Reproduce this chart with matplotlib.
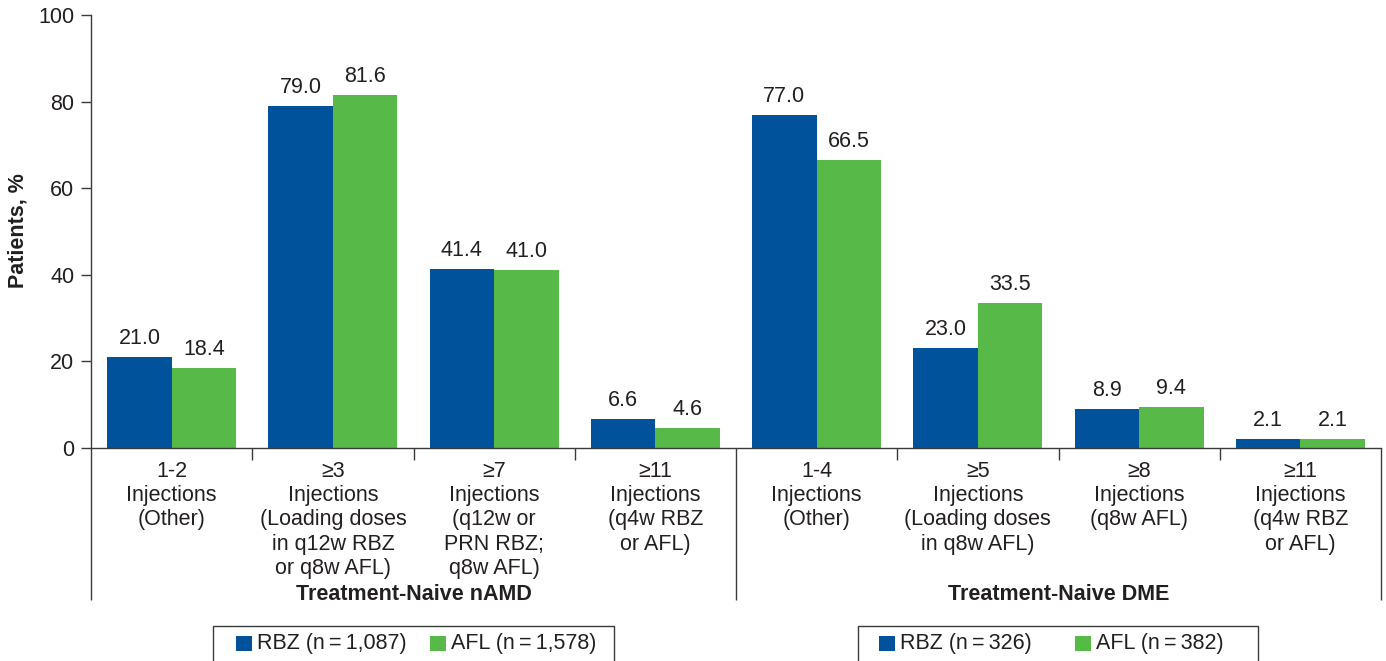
import matplotlib
matplotlib.use("Agg")
import matplotlib.pyplot as plt
from matplotlib.patches import Rectangle

# ---- data -------------------------------------------------------------
categories = [
    "1-2\nInjections\n(Other)",
    "\u22653\nInjections\n(Loading doses\nin q12w RBZ\nor q8w AFL)",
    "\u22657\nInjections\n(q12w or\nPRN RBZ;\nq8w AFL)",
    "\u226511\nInjections\n(q4w RBZ\nor AFL)",
    "1-4\nInjections\n(Other)",
    "\u22655\nInjections\n(Loading doses\nin q8w AFL)",
    "\u22658\nInjections\n(q8w AFL)",
    "\u226511\nInjections\n(q4w RBZ\nor AFL)",
]
rbz_values = [21.0, 79.0, 41.4, 6.6, 77.0, 23.0, 8.9, 2.1]
afl_values = [18.4, 81.6, 41.0, 4.6, 66.5, 33.5, 9.4, 2.1]
group_names = ["Treatment-Naive nAMD", "Treatment-Naive DME"]
legend_labels = [
    ("RBZ (n\u2009=\u20091,087)", "AFL (n\u2009=\u20091,578)"),
    ("RBZ (n\u2009=\u2009326)", "AFL (n\u2009=\u2009382)"),
]
y_ticks = [0, 20, 40, 60, 80, 100]

# ---- style ------------------------------------------------------------
BLUE = "#00529B"
GREEN = "#56B948"
TEXT = "#231F20"
LINE = "#3a3a3a"
FS = 15.5
W, H = 1386, 661

plt.rcParams["font.family"] = ["Liberation Sans", "DejaVu Sans"]
plt.rcParams["text.color"] = TEXT

fig = plt.figure(figsize=(W / 100, H / 100), dpi=100)
ax = fig.add_axes([91 / W, (H - 448) / H, 1290 / W, 433 / H])


def fig_xy(px, py):
    """Pixel position (from top-left) to figure fraction."""
    return px / W, 1 - py / H


n = len(categories)
xs = [i + 0.5 for i in range(n)]
bw = 0.4
ax.bar([x - bw / 2 for x in xs], rbz_values, width=bw, color=BLUE, zorder=2)
ax.bar([x + bw / 2 for x in xs], afl_values, width=bw, color=GREEN, zorder=2)

for x, v in zip(xs, rbz_values):
    ax.annotate(f"{v:.1f}", (x - bw / 2, v), xytext=(0, 13),
                textcoords="offset pixels", ha="center", va="baseline",
                fontsize=FS)
for x, v in zip(xs, afl_values):
    ax.annotate(f"{v:.1f}", (x + bw / 2, v), xytext=(0, 13),
                textcoords="offset pixels", ha="center", va="baseline",
                fontsize=FS)

ax.set_xlim(0, n)
ax.set_ylim(0, 100)
ax.set_yticks(y_ticks)
ax.set_yticklabels([str(t) for t in y_ticks], fontsize=FS)
ax.set_xticks([])
ax.tick_params(axis="y", direction="out", length=7, width=1.0,
               color=LINE, pad=5, labelcolor=TEXT)
for side in ("top", "right"):
    ax.spines[side].set_visible(False)
for side in ("left", "bottom"):
    ax.spines[side].set_color(LINE)
    ax.spines[side].set_linewidth(1.0)

# category labels below the axis
for x, lab in zip(xs, categories):
    ax.annotate(lab, (x, 0), xycoords=("data", "axes fraction"),
                xytext=(0, -13), textcoords="offset pixels",
                ha="center", va="top", fontsize=FS, linespacing=1.2)

# separators below the axis: long ones bound the groups, short ones the categories
xt = ax.get_xaxis_transform()
long_drop = -152 / 433
short_drop = -12 / 433
for x in (0, 4, 8):
    ax.plot([x, x], [0, long_drop], transform=xt, color=LINE, lw=1.0,
            clip_on=False, solid_capstyle="butt")
for x in (1, 2, 3, 5, 6, 7):
    ax.plot([x, x], [0, short_drop], transform=xt, color=LINE, lw=1.0,
            clip_on=False, solid_capstyle="butt")

# group names
for gx, name in zip((2, 6), group_names):
    ax.annotate(name, (gx, 0), xycoords=("data", "axes fraction"),
                xytext=(0, -147), textcoords="offset pixels",
                ha="center", va="center", fontsize=FS, fontweight="bold")

# y-axis title
fig.text(*fig_xy(18, 231), "Patients, %", rotation=90, ha="center",
         va="center", fontsize=FS, fontweight="bold")

# legends, one per group
legend_boxes = [(213, 614), (858, 1258)]
swatch_x = [(236, 430), (879, 1075)]
for (x0, x1), (sb, sg), (lb, lg) in zip(legend_boxes, swatch_x, legend_labels):
    fx0, fy0 = fig_xy(x0, 672)
    fx1, fy1 = fig_xy(x1, 626)
    fig.add_artist(Rectangle((fx0, fy0), fx1 - fx0, fy1 - fy0,
                             transform=fig.transFigure, facecolor="none",
                             edgecolor=LINE, lw=1.0, clip_on=False))
    for sx, col, lab in ((sb, BLUE, lb), (sg, GREEN, lg)):
        rx, ry = fig_xy(sx, 651)
        fig.add_artist(Rectangle((rx, ry), 16 / W, 15 / H,
                                 transform=fig.transFigure, facecolor=col,
                                 edgecolor="none"))
        fig.text(*fig_xy(sx + 21, 644), lab, ha="left", va="center",
                 fontsize=FS)

fig.savefig("out.png", dpi=100, facecolor="white")
